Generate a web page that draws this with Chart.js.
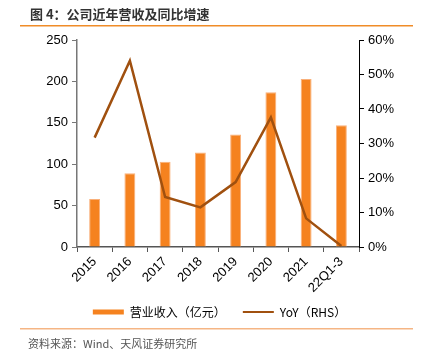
<!DOCTYPE html>
<html><head><meta charset="utf-8">
<script src="https://cdn.jsdelivr.net/npm/chart.js@4"></script>
<style>
html,body{margin:0;padding:0;background:#fff;}
#wrap{position:relative;width:425px;height:360px;overflow:hidden;}
#title{position:absolute;left:30px;top:5px;font:bold 13px "Noto Sans CJK SC",sans-serif;color:#333;line-height:18px;z-index:2;}
#src{position:absolute;left:28px;top:335px;font:11px "Noto Sans CJK SC",sans-serif;color:#555;line-height:16px;z-index:2;}
canvas{position:absolute;left:0;top:0;z-index:1;}
</style></head>
<body><div id="wrap">
<canvas id="c" width="425" height="360"></canvas>
<div id="title">图 4：公司近年营收及同比增速</div>
<div id="src">资料来源：Wind、天风证券研究所</div>
</div>
<script>
const categories = ["2015","2016","2017","2018","2019","2020","2021","22Q1-3"];
const revenue = [58, 89, 103, 114, 136, 187, 203, 147];
const yoy = [0.317, 0.54, 0.145, 0.115, 0.188, 0.376, 0.083, 0.003];
const leftTicks = [0, 50, 100, 150, 200, 250];
const rightTicks = [0, 0.1, 0.2, 0.3, 0.4, 0.5, 0.6];

const tickFont = {family: '"Liberation Sans", Arial, sans-serif', size: 13};
const decor = {
  id:'decor',
  afterLayout(chart){ const l = chart.legend; if (l){ l.left += 7; l.right += 7; } },
  afterDraw(chart){
    const ctx = chart.ctx; ctx.save();
    ctx.fillStyle = '#F08C28'; ctx.fillRect(20, 25, 393, 1.5);
    ctx.fillStyle = '#F5B584'; ctx.fillRect(20, 328, 393, 1.5);
    ctx.restore();
  }
};
new Chart(document.getElementById('c'), {
  plugins:[decor],
  data: {
    labels: categories,
    datasets: [
      {type:'line', label:'YoY（RHS）', data:yoy, yAxisID:'y1', borderColor:'#A0500F', backgroundColor:'#A0500F', borderWidth:2.5, pointRadius:0, tension:0, order:0},
      {type:'bar', label:'营业收入（亿元）', data:revenue, yAxisID:'y', backgroundColor:'#F5821F', borderColor:'#F9B07A', borderWidth:{left:1,right:1,top:1,bottom:0}, barPercentage:0.31, categoryPercentage:1, order:1}
    ]
  },
  options: {
    responsive:false, animation:false,
    layout:{padding:{top:40,left:0,right:0,bottom:32}},
    plugins:{
      legend:{position:'bottom',
        labels:{font:{family:'"Noto Sans CJK SC",sans-serif', size:12}, color:'#333', boxWidth:31, boxHeight:5, padding:11,
          usePointStyle:true, pointStyleWidth:31,
          generateLabels(chart){
            const d = chart.data.datasets;
            return [
              {text:d[1].label + '\u3000', fillStyle:'#F5821F', strokeStyle:'#F5821F', lineWidth:0, pointStyle:'rect', datasetIndex:1, hidden:false},
              {text:d[0].label, fillStyle:'#A0500F', strokeStyle:'#A0500F', lineWidth:2, pointStyle:'line', datasetIndex:0, hidden:false}
            ];
          }
        }
      },
      tooltip:{enabled:false}
    },
    scales:{
      x:{
        grid:{display:true, drawOnChartArea:false, drawTicks:true, tickLength:5, color:'#555', offset:true},
        border:{display:true, color:'#555', width:1.5},
        ticks:{font:tickFont, color:'#000', minRotation:45, maxRotation:45, padding:2},
        afterFit(s){s.height=48;}
      },
      y:{position:'left', min:0, max:250,
        afterBuildTicks(s){s.ticks = leftTicks.map(v=>({value:v}));},
        grid:{drawOnChartArea:false, tickLength:5, color:'#777'},
        border:{color:'#777', width:1.5},
        ticks:{font:tickFont, color:'#000', padding:4},
        afterFit(s){s.width=77;}
      },
      y1:{position:'right', min:0, max:0.6,
        afterBuildTicks(s){s.ticks = rightTicks.map(v=>({value:v}));},
        grid:{drawOnChartArea:false, tickLength:5, color:'#000'},
        border:{color:'#000', width:1},
        ticks:{font:tickFont, color:'#000', padding:4, callback:v=>Math.round(v*100)+'%'},
        afterFit(s){s.width=66;}
      }
    }
  }
});
</script>
</body></html>
